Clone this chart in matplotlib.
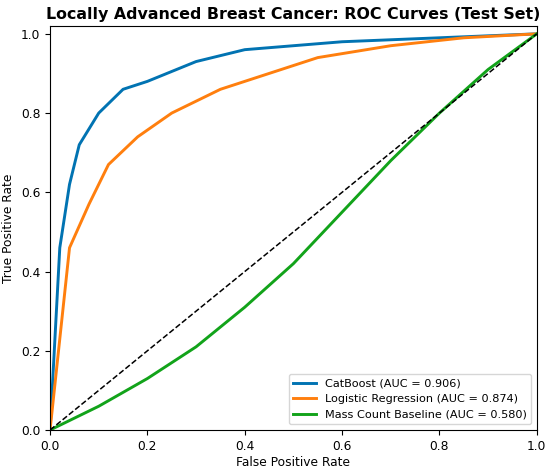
import numpy as np
import matplotlib
matplotlib.use('Agg')
import matplotlib.pyplot as plt

# ROC points
cat_fpr = [0.0, 0.02, 0.04, 0.06, 0.10, 0.15, 0.20, 0.30, 0.40, 0.60, 0.80, 1.0]
cat_tpr = [0.0, 0.46, 0.62, 0.72, 0.80, 0.86, 0.88, 0.93, 0.96, 0.98, 0.99, 1.0]

lr_fpr = [0.0, 0.04, 0.08, 0.12, 0.18, 0.25, 0.35, 0.55, 0.70, 0.85, 1.0]
lr_tpr = [0.0, 0.46, 0.57, 0.67, 0.74, 0.80, 0.86, 0.94, 0.97, 0.99, 1.0]

mc_fpr = [0.0, 0.10, 0.20, 0.30, 0.40, 0.50, 0.60, 0.70, 0.80, 0.90, 1.0]
mc_tpr = [0.0, 0.06, 0.13, 0.21, 0.31, 0.42, 0.55, 0.68, 0.80, 0.91, 1.0]

labels = ['CatBoost (AUC = 0.906)',
          'Logistic Regression (AUC = 0.874)',
          'Mass Count Baseline (AUC = 0.580)']

fig, ax = plt.subplots(figsize=(5.5, 4.71), dpi=100)
fig.subplots_adjust(left=0.091, right=0.976, top=0.945, bottom=0.087)

ax.plot(cat_fpr, cat_tpr, color='#0173B2', lw=2.1, label=labels[0])
ax.plot(lr_fpr, lr_tpr, color='#FF7F0E', lw=2.1, label=labels[1])
ax.plot(mc_fpr, mc_tpr, color='#12A31A', lw=2.1, label=labels[2])
ax.plot([0, 1], [0, 1], 'k--', lw=1.1)

ax.set_xlim(0, 1)
ax.set_ylim(0, 1.02)
ax.set_xlabel('False Positive Rate', fontsize=8.8, labelpad=2)
ax.set_ylabel('True Positive Rate', fontsize=8.8, labelpad=4)
ax.set_title('Locally Advanced Breast Cancer: ROC Curves (Test Set)',
             fontweight='bold', fontsize=11.4, pad=5)
ax.tick_params(labelsize=8.8)
ax.legend(loc='lower right', fontsize=8.1)

plt.savefig('out.png', dpi=100)
